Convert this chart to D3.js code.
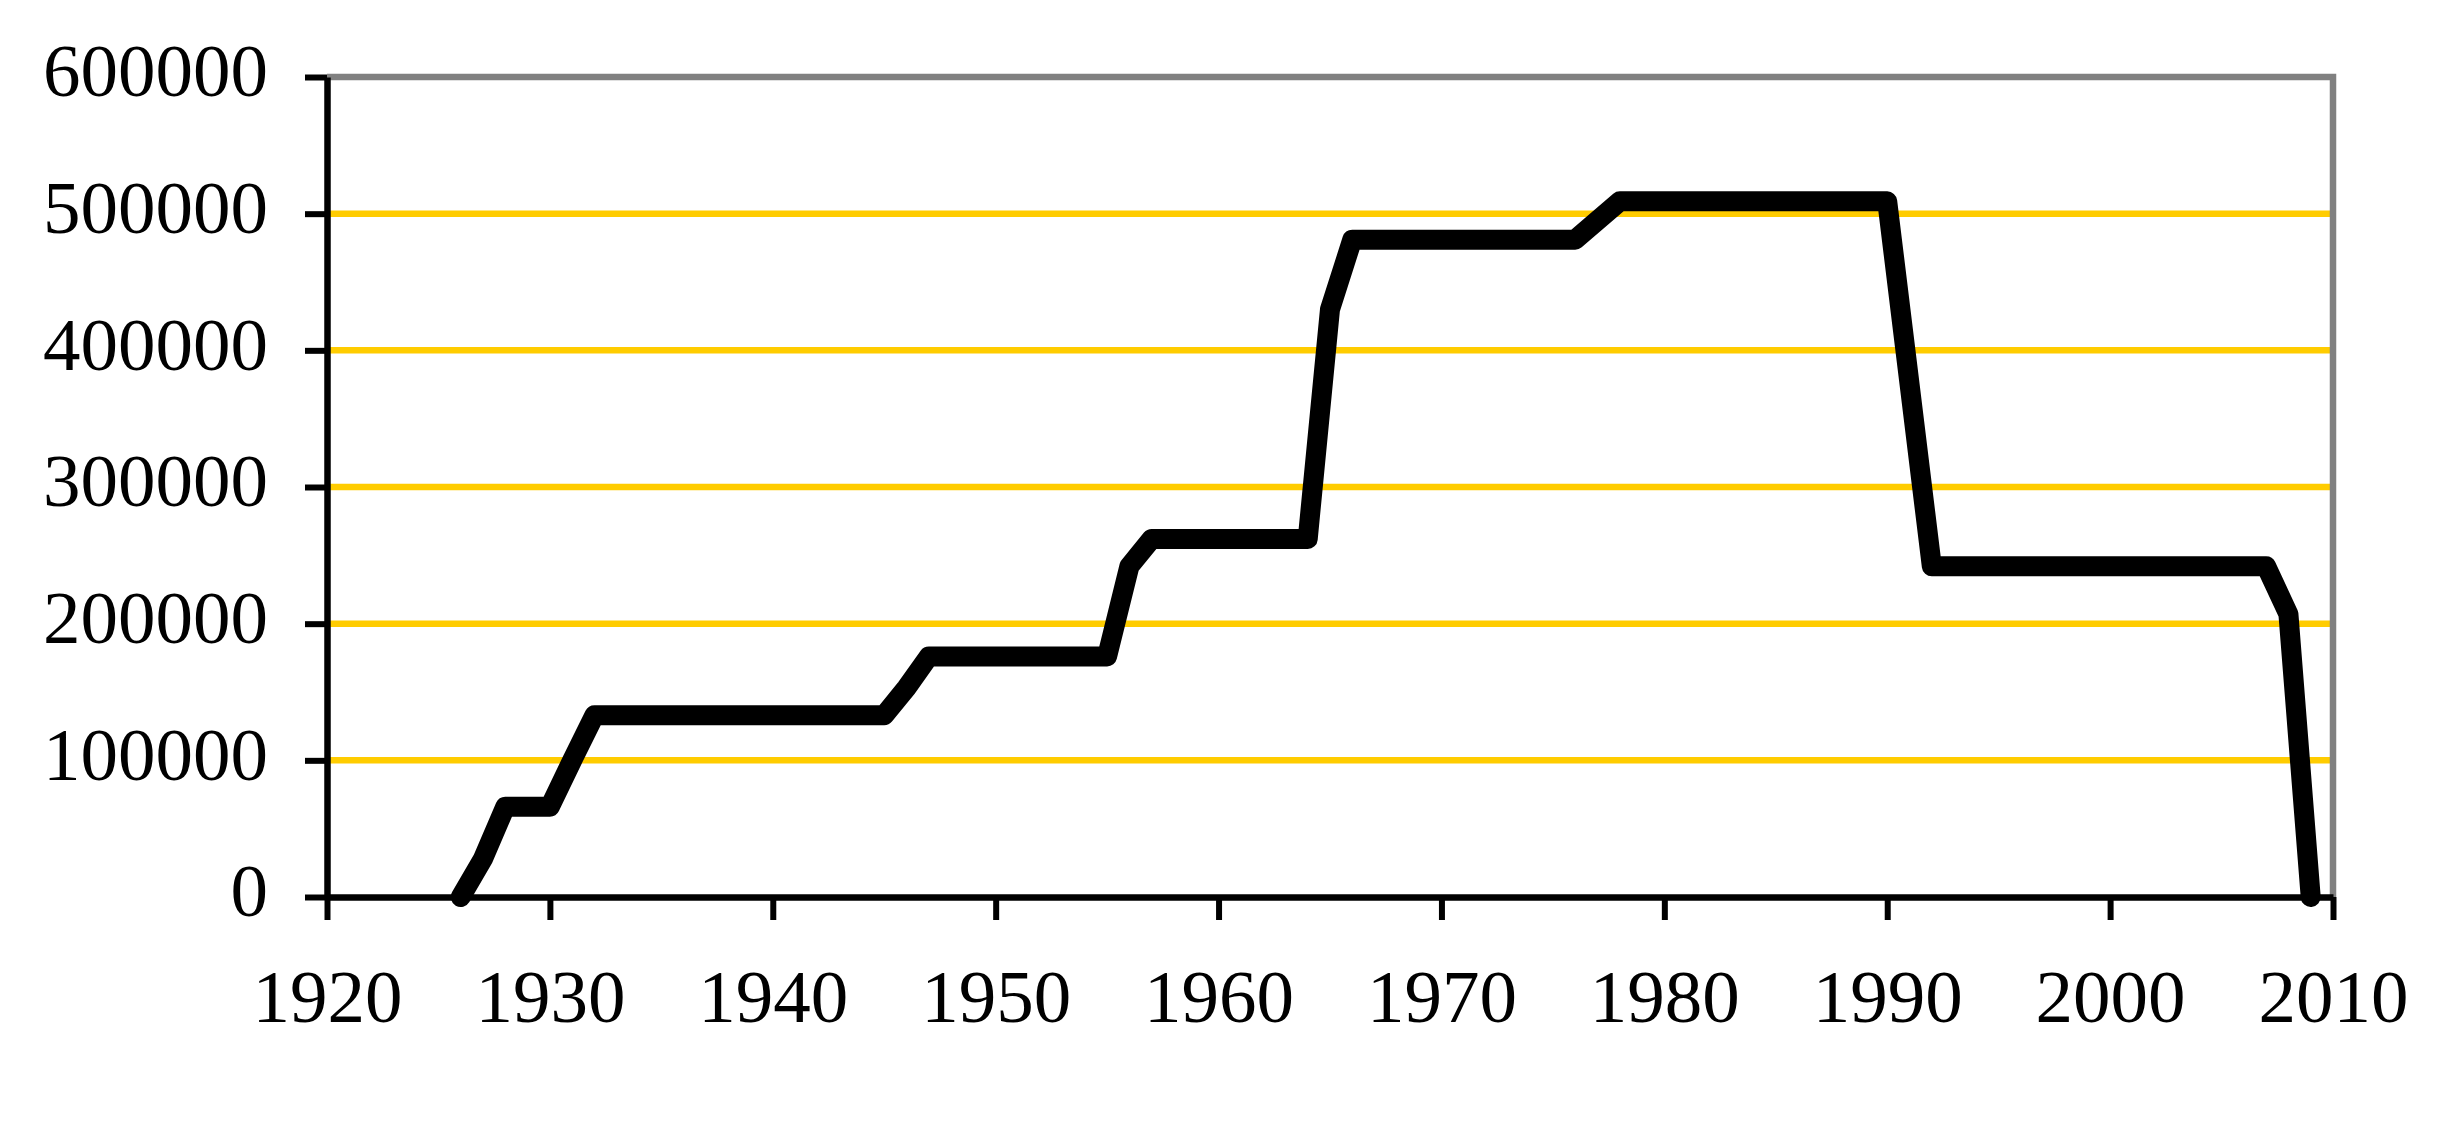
<!DOCTYPE html>
<html>
<head>
<meta charset="utf-8">
<script src="https://cdn.jsdelivr.net/npm/d3@7"></script>
<style>
  html, body { margin: 0; padding: 0; background: #ffffff; }
  svg { display: block; }
  .tick text { font-family: "Liberation Serif", "Times New Roman", serif; fill: #000; }
</style>
</head>
<body>
<svg id="chart" width="2450" height="1136"></svg>
<script>
// ---- data ----
const years  = [1926, 1927, 1928, 1930, 1931, 1932, 1945, 1946, 1947, 1955, 1956, 1957, 1964, 1965, 1966, 1976, 1978, 1990, 1992, 2007, 2008, 2009];
const values = [0, 28000, 66000, 66000, 100000, 133000, 133000, 153000, 176000, 176000, 242000, 262000, 262000, 430000, 481000, 481000, 509000, 509000, 242000, 242000, 207000, 0];
const xTicks = [1920, 1930, 1940, 1950, 1960, 1970, 1980, 1990, 2000, 2010];
const yTicks = [0, 100000, 200000, 300000, 400000, 500000, 600000];
const gridValues = [100000, 200000, 300000, 400000, 500000];

(function () {
  // ---- layout ----
  const plotLeft = 327, plotRight = 2333, plotTop = 77, plotBottom = 897;
  const svg = d3.select("#chart");
  svg.append("rect").attr("width", 2450).attr("height", 1136).attr("fill", "#fff");

  const x = d3.scaleLinear().domain([1920, 2010]).range([plotLeft, plotRight]);
  const y = d3.scaleLinear().domain([0, 600000]).range([plotBottom, plotTop]);

  // gridlines
  svg.append("g").selectAll("line").data(gridValues).join("line")
    .attr("x1", plotLeft).attr("x2", plotRight)
    .attr("y1", d => y(d)).attr("y2", d => y(d))
    .attr("stroke", "#FFCC00").attr("stroke-width", 6.5);

  // plot border (top and right), gray
  svg.append("path")
    .attr("d", `M${plotLeft},${y(600000)}H${x(2010)}V${y(0)}`)
    .attr("fill", "none").attr("stroke", "#808080").attr("stroke-width", 6.5)
    .attr("stroke-linejoin", "miter");

  // y axis
  const yAxis = svg.append("g").attr("transform", `translate(${plotLeft},0)`)
    .call(d3.axisLeft(y).tickValues(yTicks).tickFormat(d3.format("d"))
          .tickSize(22).tickSizeOuter(0).tickPadding(37));
  yAxis.select(".domain").attr("stroke", "#000").attr("stroke-width", 6.5);
  yAxis.selectAll(".tick line").attr("stroke", "#000").attr("stroke-width", 6);
  yAxis.selectAll(".tick text").attr("font-size", 75).attr("dy", "0.25em");

  // x axis
  const xAxis = svg.append("g").attr("transform", `translate(0,${plotBottom})`)
    .call(d3.axisBottom(x).tickValues(xTicks).tickFormat(d3.format("d"))
          .tickSize(23).tickSizeOuter(0).tickPadding(49));
  xAxis.select(".domain").attr("stroke", "#000").attr("stroke-width", 6.5);
  xAxis.selectAll(".tick line").attr("stroke", "#000").attr("stroke-width", 6);
  xAxis.selectAll(".tick text").attr("font-size", 75).attr("dy", "0.71em");

  // data line
  const pts = years.map((yr, i) => [yr, values[i]]);
  svg.append("path")
    .datum(pts)
    .attr("fill", "none")
    .attr("stroke", "#000")
    .attr("stroke-width", 20)
    .attr("stroke-linejoin", "round")
    .attr("stroke-linecap", "round")
    .attr("d", d3.line().x(d => x(d[0])).y(d => y(d[1])));
})();
</script>
</body>
</html>
